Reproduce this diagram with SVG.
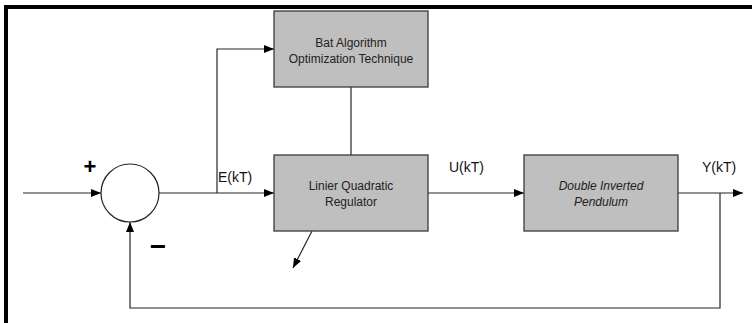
<svg xmlns="http://www.w3.org/2000/svg" width="754" height="323" viewBox="0 0 754 323">
  <style>
    .blk { fill: #bfbfbf; stroke: #3a3a3a; stroke-width: 1.3; }
    .sum { fill: #ffffff; stroke: #222; stroke-width: 1.2; }
    .wire { fill: none; stroke: #262626; stroke-width: 1.2; }
    .lbl { font-family: "Liberation Sans", Arial, sans-serif; font-size: 12px; fill: #222; text-anchor: middle; }
    .sig { font-family: "Liberation Sans", Arial, sans-serif; font-size: 14px; fill: #111; }
    .sign { font-family: "Liberation Sans", Arial, sans-serif; font-weight: bold; fill: #000; text-anchor: middle; }
  </style>
  <defs>
    <marker id="arrow" viewBox="0 0 10 8" refX="10" refY="4" markerWidth="10" markerHeight="8" markerUnits="userSpaceOnUse" orient="auto">
      <path d="M0,0 L10,4 L0,8 Z" fill="#000"/>
    </marker>
  </defs>

  <rect width="754" height="323" fill="#ffffff"/>
  <!-- frame -->
  <rect x="4" y="5" width="748" height="4" fill="#000"/>
  <rect x="4" y="5" width="4" height="318" fill="#000"/>

  <g id="connectors">
    <line class="wire" x1="23" y1="193" x2="101" y2="193" marker-end="url(#arrow)"/>
    <line class="wire" x1="159" y1="193" x2="274" y2="193" marker-end="url(#arrow)"/>
    <polyline class="wire" points="217,193 217,49 274,49" marker-end="url(#arrow)"/>
    <line class="wire" x1="351" y1="87" x2="351" y2="155"/>
    <line class="wire" x1="428" y1="193" x2="524" y2="193" marker-end="url(#arrow)"/>
    <line class="wire" x1="678" y1="193" x2="743" y2="193" marker-end="url(#arrow)"/>
    <polyline class="wire" points="720,193 720,308 130,308 130,222" marker-end="url(#arrow)"/>
    <line class="wire" x1="312" y1="231" x2="293" y2="268" marker-end="url(#arrow)"/>
  </g>

  <g id="summing-junction">
    <circle class="sum" cx="130" cy="193" r="29"/>
    <text class="sign" x="90" y="174" font-size="22">+</text>
    <text class="sign" x="158" y="256" font-size="28">−</text>
  </g>

  <g id="bat-algorithm">
    <rect class="blk" x="274" y="11" width="154" height="76"/>
    <text class="lbl" x="351" y="47">Bat Algorithm</text>
    <text class="lbl" x="351" y="63">Optimization Technique</text>
  </g>

  <g id="lqr">
    <rect class="blk" x="274" y="155" width="154" height="76"/>
    <text class="lbl" x="351" y="190">Linier Quadratic</text>
    <text class="lbl" x="351" y="206">Regulator</text>
  </g>

  <g id="pendulum">
    <rect class="blk" x="524" y="155" width="154" height="76"/>
    <text class="lbl" x="601" y="190" font-style="italic">Double Inverted</text>
    <text class="lbl" x="601" y="206" font-style="italic">Pendulum</text>
  </g>

  <g id="signal-labels">
    <text class="sig" x="218" y="182">E(kT)</text>
    <text class="sig" x="449" y="172">U(kT)</text>
    <text class="sig" x="702" y="172">Y(kT)</text>
  </g>
</svg>
